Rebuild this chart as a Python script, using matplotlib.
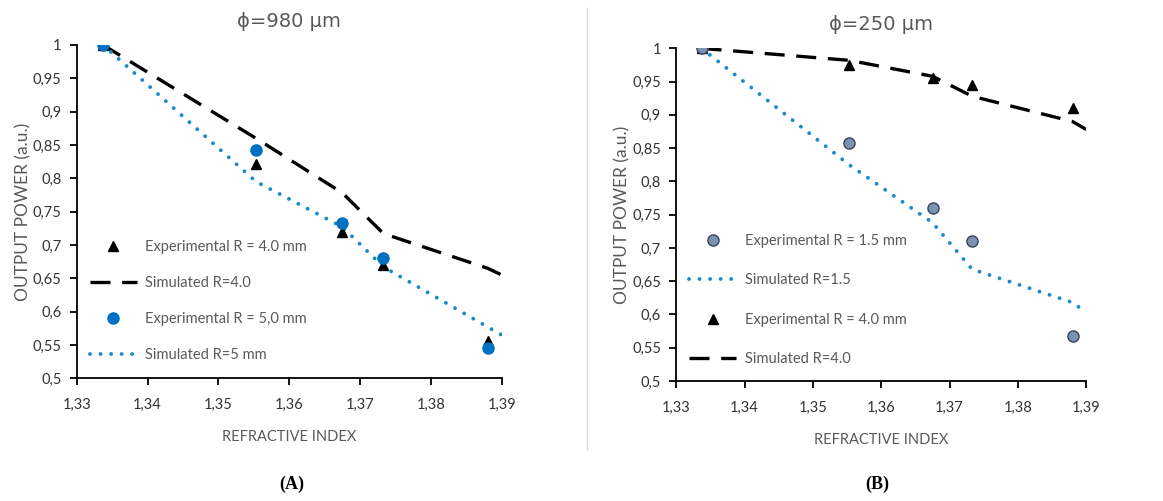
import matplotlib
matplotlib.use('Agg')
from matplotlib import pyplot as plt
from matplotlib.lines import Line2D

plt.rcParams['font.family'] = ['Lato', 'DejaVu Sans']

# refractive index of the measured solutions
ri_exp = [1.3337, 1.3553, 1.3675, 1.3733, 1.3880]
ri_sim = [1.3337, 1.3553, 1.3675, 1.3733, 1.3880, 1.3900]

# panel A, fibre 980 um
a_exp_r4 = [1.0, 0.821, 0.719, 0.670, 0.556]
a_exp_r5 = [1.0, 0.843, 0.733, 0.681, 0.545]
a_sim_r4 = [1.0, 0.860, 0.778, 0.717, 0.665, 0.655]
a_sim_r5 = [1.0, 0.795, 0.727, 0.667, 0.577, 0.565]

# panel B, fibre 250 um
b_exp_r15 = [1.0, 0.858, 0.760, 0.711, 0.568]
b_exp_r4 = [1.0, 0.975, 0.956, 0.945, 0.910]
b_sim_r15 = [1.0, 0.825, 0.738, 0.668, 0.618, 0.603]
b_sim_r4 = [1.0, 0.982, 0.958, 0.928, 0.890, 0.878]

x_ticks = [1.33, 1.34, 1.35, 1.36, 1.37, 1.38, 1.39]
x_labels = ['1,33', '1,34', '1,35', '1,36', '1,37', '1,38', '1,39']
y_ticks = [0.5, 0.55, 0.6, 0.65, 0.7, 0.75, 0.8, 0.85, 0.9, 0.95, 1.0]
y_labels = ['0,5', '0,55', '0,6', '0,65', '0,7', '0,75', '0,8', '0,85', '0,9', '0,95', '1']

GREY = '#595959'
BLUE = '#0070C0'
DOT_BLUE = '#1A8AC8'
DASH = (0, (6, 3.5))
DOT = (0, (0.01, 2.7))


def style_axes(ax, title):
    ax.set_xlim(1.33, 1.39)
    ax.set_ylim(0.5, 1.0)
    ax.set_xticks(x_ticks)
    ax.set_xticklabels(x_labels)
    ax.set_yticks(y_ticks)
    ax.set_yticklabels(y_labels)
    for s in ['top', 'right']:
        ax.spines[s].set_visible(False)
    for s in ['left', 'bottom']:
        ax.spines[s].set_linewidth(1.3)
    ax.tick_params(direction='out', length=5, width=1.3, labelsize=10.5,
                   labelcolor='#333333')
    ax.tick_params(axis='x', pad=9)
    ax.tick_params(axis='y', pad=6)
    ax.set_title(title, color=GREY, fontsize=14, pad=13,
                 family=['DejaVu Sans'])
    ax.set_xlabel('REFRACTIVE INDEX', color=GREY, fontsize=10.5, labelpad=13)
    ax.set_ylabel('OUTPUT POWER (a.u.)', color=GREY, fontsize=12.5, labelpad=1)


fig = plt.figure(figsize=(11.63, 5.01), dpi=100)

axA = fig.add_axes([0.066, 0.245, 0.3654, 0.6653])
axA.plot(ri_sim, a_sim_r4, color='black', lw=2.4, ls=DASH)
axA.plot(ri_sim, a_sim_r5, color=DOT_BLUE, lw=2.8, ls=DOT, dash_capstyle='round')
axA.plot(ri_exp, a_exp_r4, ls='none', marker='^', ms=7, color='black')
axA.plot(ri_exp, a_exp_r5, ls='none', marker='o', ms=8, color=BLUE)
style_axes(axA, 'ϕ=980 μm')

handlesA = [
    Line2D([], [], ls='none', marker='^', ms=7, color='black'),
    Line2D([], [], color='black', lw=2.4, ls=DASH),
    Line2D([], [], ls='none', marker='o', ms=8, color=BLUE),
    Line2D([], [], color=DOT_BLUE, lw=2.8, ls=DOT, dash_capstyle='round'),
]
labelsA = ['Experimental R = 4.0 mm', 'Simulated R=4.0',
           'Experimental R = 5,0 mm', 'Simulated R=5 mm']
axA.legend(handlesA, labelsA, loc='lower left', bbox_to_anchor=(0.0, 0.01),
           frameon=False, fontsize=10.5, labelcolor=GREY,
           labelspacing=1.5, handlelength=3.2, handletextpad=0.6)

axB = fig.add_axes([0.5815, 0.2395, 0.3525, 0.664])
axB.plot(ri_sim, b_sim_r4, color='black', lw=2.4, ls=DASH)
axB.plot(ri_sim, b_sim_r15, color=DOT_BLUE, lw=2.8, ls=DOT, dash_capstyle='round')
axB.plot(ri_exp, b_exp_r4, ls='none', marker='^', ms=7, color='black')
axB.plot(ri_exp, b_exp_r15, ls='none', marker='o', ms=8,
         markerfacecolor='#7B92B2', markeredgecolor='#34455E', markeredgewidth=1)
style_axes(axB, 'ϕ=250 μm')

handlesB = [
    Line2D([], [], ls='none', marker='o', ms=8, markerfacecolor='#7B92B2',
           markeredgecolor='#34455E', markeredgewidth=1),
    Line2D([], [], color=DOT_BLUE, lw=2.8, ls=DOT, dash_capstyle='round'),
    Line2D([], [], ls='none', marker='^', ms=7, color='black'),
    Line2D([], [], color='black', lw=2.4, ls=DASH),
]
labelsB = ['Experimental R = 1.5 mm', 'Simulated R=1.5',
           'Experimental R = 4.0 mm', 'Simulated R=4.0']
axB.legend(handlesB, labelsB, loc='lower left', bbox_to_anchor=(0.0, 0.005),
           frameon=False, fontsize=10.5, labelcolor=GREY,
           labelspacing=1.75, handlelength=3.2, handletextpad=0.6)

# separator between panels
fig.add_artist(Line2D([587 / 1163, 587 / 1163], [1 - 8 / 501, 1 - 450 / 501],
                      color='#DADADA', lw=1))

fig.text(292 / 1163, 1 - 484 / 501, '(A)', ha='center', va='center',
         fontsize=13, fontweight='bold', family=['Liberation Serif'])
fig.text(877 / 1163, 1 - 484 / 501, '(B)', ha='center', va='center',
         fontsize=13, fontweight='bold', family=['Liberation Serif'])

fig.savefig('out.png', dpi=100, facecolor='white')
